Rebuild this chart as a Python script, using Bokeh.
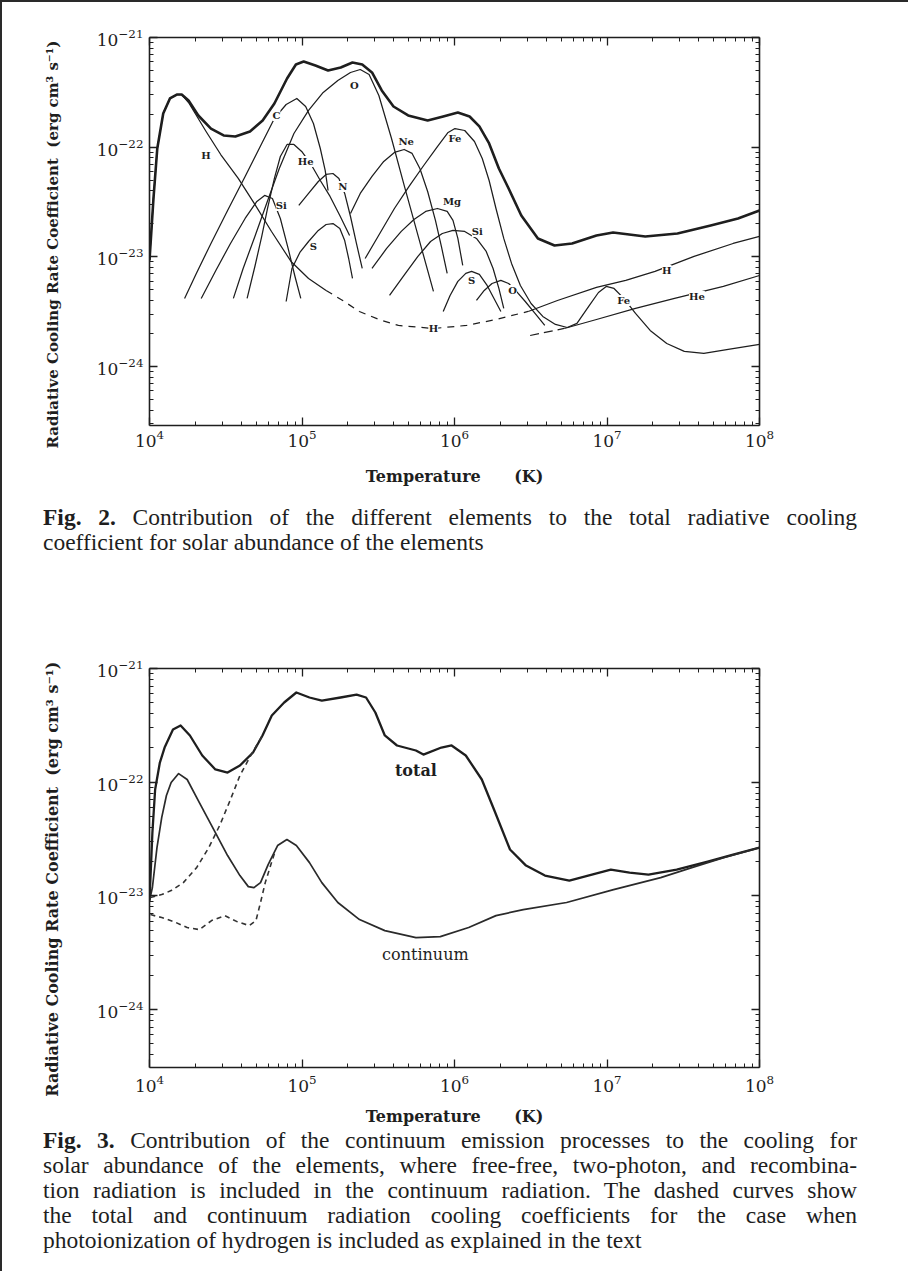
import numpy as np
from bokeh.plotting import figure
from bokeh.models import LogAxis, FixedTicker, CustomJSTickFormatter, Div, Range1d
from bokeh.layouts import column
from bokeh.embed import file_html
from bokeh.resources import INLINE
from bokeh.core.properties import value

# ---------------- Fig. 2 data: log10 T [K] and log10 Lambda [erg cm^3 s^-1] -------------
total2_logT = [4.000, 4.026, 4.051, 4.090, 4.134, 4.179, 4.211, 4.256, 4.320, 4.403, 4.486, 4.563,
               4.659, 4.742, 4.819, 4.902, 4.960, 5.011, 5.088, 5.171, 5.254, 5.331, 5.395, 5.459,
               5.523, 5.600, 5.696, 5.824, 5.926, 6.022, 6.099, 6.163, 6.227, 6.291, 6.355, 6.438,
               6.547, 6.656, 6.771, 6.931, 7.040, 7.251, 7.462, 7.680, 7.859, 8.000]
total2_logL = [-23.033, -22.468, -22.012, -21.693, -21.556, -21.520, -21.520, -21.574, -21.711, -21.830,
               -21.893, -21.902, -21.857, -21.757, -21.602, -21.374, -21.246, -21.219, -21.255, -21.301,
               -21.273, -21.228, -21.246, -21.319, -21.483, -21.629, -21.711, -21.757, -21.720, -21.684,
               -21.720, -21.811, -21.966, -22.194, -22.377, -22.623, -22.832, -22.896, -22.878, -22.805,
               -22.778, -22.814, -22.787, -22.714, -22.650, -22.577]

h_low_logT = [4.000, 4.026, 4.051, 4.090, 4.134, 4.179, 4.211, 4.256, 4.371, 4.467, 4.582, 4.691,
              4.800, 4.928, 5.043, 5.158]
h_low_logL = [-23.033, -22.468, -22.012, -21.693, -21.556, -21.520, -21.520, -21.593, -21.857, -22.067,
              -22.285, -22.522, -22.769, -23.042, -23.197, -23.306]
h_mid_logT = [5.158, 5.267, 5.376, 5.504, 5.632, 5.862, 6.080, 6.272, 6.483]
h_mid_logL = [-23.306, -23.398, -23.498, -23.571, -23.625, -23.653, -23.625, -23.571, -23.498]
h_high_logT = [6.483, 6.675, 6.931, 7.123, 7.315, 7.571, 7.827, 8.000]
h_high_logL = [-23.498, -23.398, -23.279, -23.215, -23.133, -22.996, -22.878, -22.814]

he_high_dash_logT = [6.496, 6.720]
he_high_dash_logL = [-23.717, -23.653]
he_high_logT = [6.720, 6.931, 7.187, 7.443, 7.763, 8.000]
he_high_logL = [-23.653, -23.571, -23.470, -23.379, -23.270, -23.170]

c_logT = [4.230, 4.307, 4.403, 4.512, 4.627, 4.736, 4.819, 4.896, 4.966, 5.024, 5.075, 5.120, 5.152, 5.171]
c_logL = [-23.379, -23.151, -22.878, -22.577, -22.267, -21.966, -21.738, -21.611, -21.556, -21.629,
          -21.784, -22.012, -22.212, -22.395]

o_logT = [4.550, 4.614, 4.691, 4.768, 4.851, 4.947, 5.043, 5.139, 5.235, 5.318, 5.382, 5.440, 5.504,
          5.587, 5.670, 5.766, 5.862]
o_logL = [-23.379, -23.106, -22.814, -22.513, -22.194, -21.875, -21.665, -21.501, -21.392, -21.319,
          -21.292, -21.337, -21.529, -21.921, -22.349, -22.832, -23.315]

he_low_logT = [4.640, 4.691, 4.736, 4.774, 4.819, 4.858, 4.902, 4.947, 4.998, 5.056, 5.120, 5.184, 5.248, 5.312]
he_low_logL = [-23.379, -23.088, -22.814, -22.559, -22.285, -22.085, -21.975, -21.975, -22.039, -22.149,
               -22.304, -22.449, -22.623, -22.805]

si_low_logT = [4.339, 4.435, 4.531, 4.627, 4.704, 4.755, 4.806, 4.858, 4.909, 4.954, 4.992]
si_low_logL = [-23.379, -23.124, -22.878, -22.650, -22.495, -22.440, -22.468, -22.650, -22.923, -23.179, -23.379]

n_logT = [4.979, 5.043, 5.107, 5.158, 5.203, 5.242, 5.280, 5.318, 5.357, 5.395]
n_logL = [-22.531, -22.422, -22.313, -22.249, -22.240, -22.285, -22.422, -22.632, -22.878, -23.106]

s_low_logT = [4.896, 4.934, 4.986, 5.043, 5.107, 5.158, 5.203, 5.248, 5.280, 5.306, 5.331]
s_low_logL = [-23.407, -23.106, -22.960, -22.860, -22.759, -22.705, -22.696, -22.741, -22.851, -23.015, -23.197]

ne_logT = [5.318, 5.382, 5.459, 5.536, 5.606, 5.670, 5.722, 5.773, 5.824, 5.875, 5.914, 5.952]
ne_logL = [-22.604, -22.422, -22.267, -22.130, -22.048, -22.021, -22.057, -22.194, -22.404, -22.668,
           -22.905, -23.151]

fe_logT = [5.414, 5.510, 5.606, 5.702, 5.798, 5.888, 5.958, 6.003, 6.067, 6.131, 6.182, 6.227, 6.272,
           6.323, 6.374, 6.432, 6.502, 6.579, 6.662, 6.739, 6.803, 6.880, 6.944, 6.995, 7.046, 7.110,
           7.187, 7.283, 7.392, 7.507, 7.635, 7.795, 8.000]
fe_logL = [-23.015, -22.787, -22.559, -22.358, -22.167, -21.994, -21.866, -21.830, -21.848, -21.948,
           -22.103, -22.304, -22.559, -22.832, -23.060, -23.261, -23.425, -23.543, -23.616, -23.644,
           -23.607, -23.452, -23.325, -23.270, -23.288, -23.379, -23.516, -23.671, -23.790, -23.862,
           -23.881, -23.844, -23.799]

mg_logT = [5.459, 5.555, 5.651, 5.734, 5.811, 5.888, 5.952, 5.990, 6.022, 6.054]
mg_logL = [-23.106, -22.923, -22.768, -22.659, -22.586, -22.559, -22.586, -22.668, -22.832, -23.078]

si_high_logT = [5.574, 5.664, 5.760, 5.843, 5.920, 5.990, 6.067, 6.144, 6.208, 6.253, 6.291, 6.323]
si_high_logL = [-23.352, -23.179, -22.996, -22.860, -22.787, -22.759, -22.768, -22.832, -22.951, -23.106,
                -23.288, -23.470]

s_high_logT = [5.926, 5.971, 6.022, 6.074, 6.112, 6.163, 6.214, 6.259, 6.304]
s_high_logL = [-23.498, -23.352, -23.224, -23.151, -23.133, -23.160, -23.261, -23.379, -23.498]

o_high_logT = [6.144, 6.195, 6.246, 6.304, 6.355, 6.406, 6.464, 6.528, 6.592]
o_high_logL = [-23.397, -23.306, -23.243, -23.215, -23.243, -23.315, -23.407, -23.516, -23.625]

fig2_labels = ["H", "C", "O", "He", "N", "Si", "S", "Ne", "Fe", "Mg", "Si", "S", "O", "H", "H", "Fe", "He"]
fig2_label_logT = [4.371, 4.832, 5.344, 5.024, 5.267, 4.864, 5.075, 5.683, 6.003, 5.984, 6.150, 6.112,
                   6.381, 5.862, 7.392, 7.110, 7.590]
fig2_label_logL = [-22.076, -21.711, -21.438, -22.130, -22.358, -22.532, -22.905, -21.948, -21.921,
                   -22.495, -22.768, -23.215, -23.306, -23.653, -23.124, -23.398, -23.361]

# ---------------- Fig. 3 data -------------
total3_logT = [4.000, 4.019, 4.037, 4.068, 4.099, 4.154, 4.204, 4.265, 4.346, 4.432, 4.512, 4.593,
               4.679, 4.741, 4.802, 4.883, 4.963, 5.049, 5.130, 5.253, 5.358, 5.420, 5.481, 5.543,
               5.623, 5.747, 5.796, 5.914, 5.981, 6.074, 6.179, 6.259, 6.364, 6.469, 6.593, 6.753,
               6.901, 7.025, 7.148, 7.272, 7.457, 7.660, 7.827, 8.000]
total3_logL = [-23.041, -22.443, -22.064, -21.827, -21.695, -21.537, -21.501, -21.589, -21.765, -21.888,
               -21.915, -21.853, -21.739, -21.589, -21.413, -21.299, -21.211, -21.255, -21.282, -21.255,
               -21.229, -21.255, -21.387, -21.589, -21.677, -21.721, -21.757, -21.695, -21.677, -21.765,
               -21.976, -22.240, -22.592, -22.733, -22.821, -22.865, -22.812, -22.768, -22.795, -22.812,
               -22.768, -22.698, -22.636, -22.575]

cont3_logT = [4.000, 4.019, 4.049, 4.080, 4.111, 4.142, 4.191, 4.247, 4.327, 4.432, 4.512, 4.593,
              4.648, 4.685, 4.728, 4.778, 4.840, 4.901, 4.963, 5.049, 5.130, 5.235, 5.377, 5.543,
              5.747, 5.907, 6.093, 6.272, 6.451, 6.735, 7.043, 7.352, 7.556, 7.765, 7.907, 8.000]
cont3_logL = [-23.041, -22.926, -22.575, -22.311, -22.117, -22.003, -21.924, -21.976, -22.179, -22.443,
              -22.645, -22.821, -22.918, -22.927, -22.883, -22.724, -22.557, -22.504, -22.557, -22.707,
              -22.883, -23.058, -23.208, -23.305, -23.366, -23.358, -23.278, -23.173, -23.120, -23.058,
              -22.944, -22.839, -22.751, -22.663, -22.610, -22.575]

total3_ph_logT = [4.006, 4.080, 4.142, 4.222, 4.309, 4.389, 4.463, 4.531, 4.593, 4.667, 4.741]
total3_ph_logL = [-23.014, -22.988, -22.953, -22.883, -22.751, -22.575, -22.372, -22.152, -21.941,
                  -21.757, -21.589]

cont3_ph_logT = [4.006, 4.080, 4.160, 4.247, 4.327, 4.407, 4.494, 4.574, 4.654, 4.698, 4.728, 4.759,
                 4.796, 4.821]
cont3_ph_logL = [-23.164, -23.190, -23.226, -23.278, -23.296, -23.217, -23.173, -23.226, -23.261,
                 -23.217, -23.058, -22.883, -22.724, -22.619]

fig3_labels = ["total", "continuum"]
fig3_label_logT = [5.747, 5.809]
fig3_label_logL = [-21.897, -23.516]

x_major = [1e4, 1e5, 1e6, 1e7, 1e8]
y_major = [1e-24, 1e-23, 1e-22, 1e-21]

# ---------------------------------------------------------------------------
INK = "#1e1e1e"
SERIF = "DejaVu Serif"
NB = "\u00a0"
x_minor = [m * 10.0 ** e for e in range(4, 8) for m in range(2, 10)]
y_minor = [m * 10.0 ** e for e in range(-25, -21) for m in range(2, 10)]
X_LABEL = "Temperature" + NB * 6 + "(K)"
Y_LABEL = "Radiative Cooling Rate Coefficient" + NB * 2 + "(erg cm\u00b3 s\u207b\u00b9)"


def pw(a):
    return 10.0 ** np.asarray(a, dtype=float)


def make_fig(height, bl, br, bt, bb, ymin, tick_standoff, xlab_standoff, ypad, ysize):
    p = figure(width=896, height=height, x_axis_type="log", y_axis_type="log",
               x_range=Range1d(1e4, 1e8), y_range=Range1d(ymin, 1e-21),
               output_backend="svg", toolbar_location=None, title=None,
               min_border_left=bl, min_border_right=br, min_border_top=bt, min_border_bottom=bb)
    p.grid.visible = False
    p.outline_line_color = None
    p.background_fill_color = "white"
    p.border_fill_color = "white"
    bottom = p.below[0]
    left = p.left[0]
    xt = FixedTicker(ticks=x_major, minor_ticks=x_minor)
    yt = FixedTicker(ticks=y_major, minor_ticks=y_minor)
    bottom.ticker = xt
    left.ticker = yt
    top = LogAxis(ticker=xt, formatter=CustomJSTickFormatter(code="return ''"))
    right = LogAxis(ticker=yt, formatter=CustomJSTickFormatter(code="return ''"))
    p.add_layout(top, "above")
    p.add_layout(right, "right")
    for ax in [bottom, left, top, right]:
        ax.major_tick_in = 8
        ax.major_tick_out = 0
        ax.minor_tick_in = 4
        ax.minor_tick_out = 0
        ax.axis_line_width = 1.6
        ax.axis_line_color = INK
        ax.major_tick_line_color = INK
        ax.minor_tick_line_color = INK
        ax.major_tick_line_width = 1.3
        ax.minor_tick_line_width = 1.0
        ax.major_label_text_font = SERIF
        ax.major_label_text_font_size = "17px"
        ax.major_label_text_color = INK
    bottom.major_label_standoff = tick_standoff
    left.major_label_standoff = 6
    bottom.axis_label = X_LABEL
    left.axis_label = Y_LABEL + NB * ypad
    for ax in [bottom, left]:
        ax.axis_label_text_font = SERIF
        ax.axis_label_text_font_style = "bold"
        ax.axis_label_text_color = INK
    bottom.axis_label_text_font_size = "16px"
    left.axis_label_text_font_size = ysize
    bottom.axis_label_standoff = xlab_standoff
    left.axis_label_standoff = 32
    return p


# ---------------- Fig. 2 -------------
p2 = make_fig(493, 132, 139, 35, 70, 2.9e-25, 4, 17, 5, "15px")
thin = dict(line_color=INK, line_width=1.25, line_join="round")
p2.line(pw(total2_logT), pw(total2_logL), line_color=INK, line_width=2.6, line_join="round")
for tx, ly in [(h_low_logT, h_low_logL), (h_high_logT, h_high_logL), (he_high_logT, he_high_logL),
               (c_logT, c_logL), (o_logT, o_logL), (he_low_logT, he_low_logL),
               (si_low_logT, si_low_logL), (n_logT, n_logL), (s_low_logT, s_low_logL),
               (ne_logT, ne_logL), (fe_logT, fe_logL), (mg_logT, mg_logL),
               (si_high_logT, si_high_logL), (s_high_logT, s_high_logL), (o_high_logT, o_high_logL)]:
    p2.line(pw(tx), pw(ly), **thin)
p2.line(pw(h_mid_logT), pw(h_mid_logL), line_dash="7 6", **thin)
p2.line(pw(he_high_dash_logT), pw(he_high_dash_logL), line_dash="9 5", **thin)
p2.text(x=pw(fig2_label_logT), y=pw(fig2_label_logL), text=fig2_labels,
        text_font=value(SERIF), text_font_style="bold", text_font_size="10px",
        text_color=INK, text_align="center", text_baseline="middle",
        background_fill_color="white")

# ---------------- Fig. 3 -------------
p3 = make_fig(567, 147, 101, 106, 62, 3.1e-25, 7, 12, 4, "16px")
p3.line(pw(total3_logT), pw(total3_logL), line_color=INK, line_width=2.3, line_join="round")
p3.line(pw(cont3_logT), pw(cont3_logL), line_color="#2a2a2a", line_width=1.7, line_join="round")
p3.line(pw(total3_ph_logT), pw(total3_ph_logL), line_color="#333333", line_width=1.6,
        line_dash="5 4", line_join="round")
p3.line(pw(cont3_ph_logT), pw(cont3_ph_logL), line_color="#333333", line_width=1.6,
        line_dash="5 4", line_join="round")
p3.text(x=pw(fig3_label_logT), y=pw(fig3_label_logL), text=fig3_labels,
        text_font=value(SERIF), text_font_size="16px", text_color=INK,
        text_align="center", text_baseline="middle",
        text_font_style=["bold", "normal"])

# ---------------- captions -------------
LINE = "text-align:justify;text-align-last:justify;"
BASE = ("font-family:'Liberation Serif',serif;font-size:23.5px;line-height:25px;color:#1e1e1e;"
        "box-sizing:border-box;margin:0;padding-left:36px;width:850px;")
cap2_html = (f"<div style=\"{BASE}padding-top:5px;\">"
             f"<div style=\"{LINE}\"><b>Fig.{NB}2.</b> Contribution of the different elements to the total radiative cooling</div>"
             "<div>coefficient for solar abundance of the elements</div></div>")
cap3_html = (f"<div style=\"{BASE}margin-top:-6px;\">"
             f"<div style=\"{LINE}\"><b>Fig.{NB}3.</b> Contribution of the continuum emission processes to the cooling for</div>"
             f"<div style=\"{LINE}\">solar abundance of the elements, where free-free, two-photon, and recombina-</div>"
             f"<div style=\"{LINE}\">tion radiation is included in the continuum radiation. The dashed curves show</div>"
             f"<div style=\"{LINE}\">the total and continuum radiation cooling coefficients for the case when</div>"
             "<div>photoionization of hydrogen is included as explained in the text</div></div>")
cap2 = Div(text=cap2_html, width=896, height=57)
cap3 = Div(text=cap3_html, width=896, height=132)

layout = column(p2, cap2, p3, cap3, spacing=0,
                styles={"border-left": "2px solid #2a2a2a", "border-top": "2px solid #2a2a2a"})
open("out.html", "w").write(file_html(layout, INLINE))
